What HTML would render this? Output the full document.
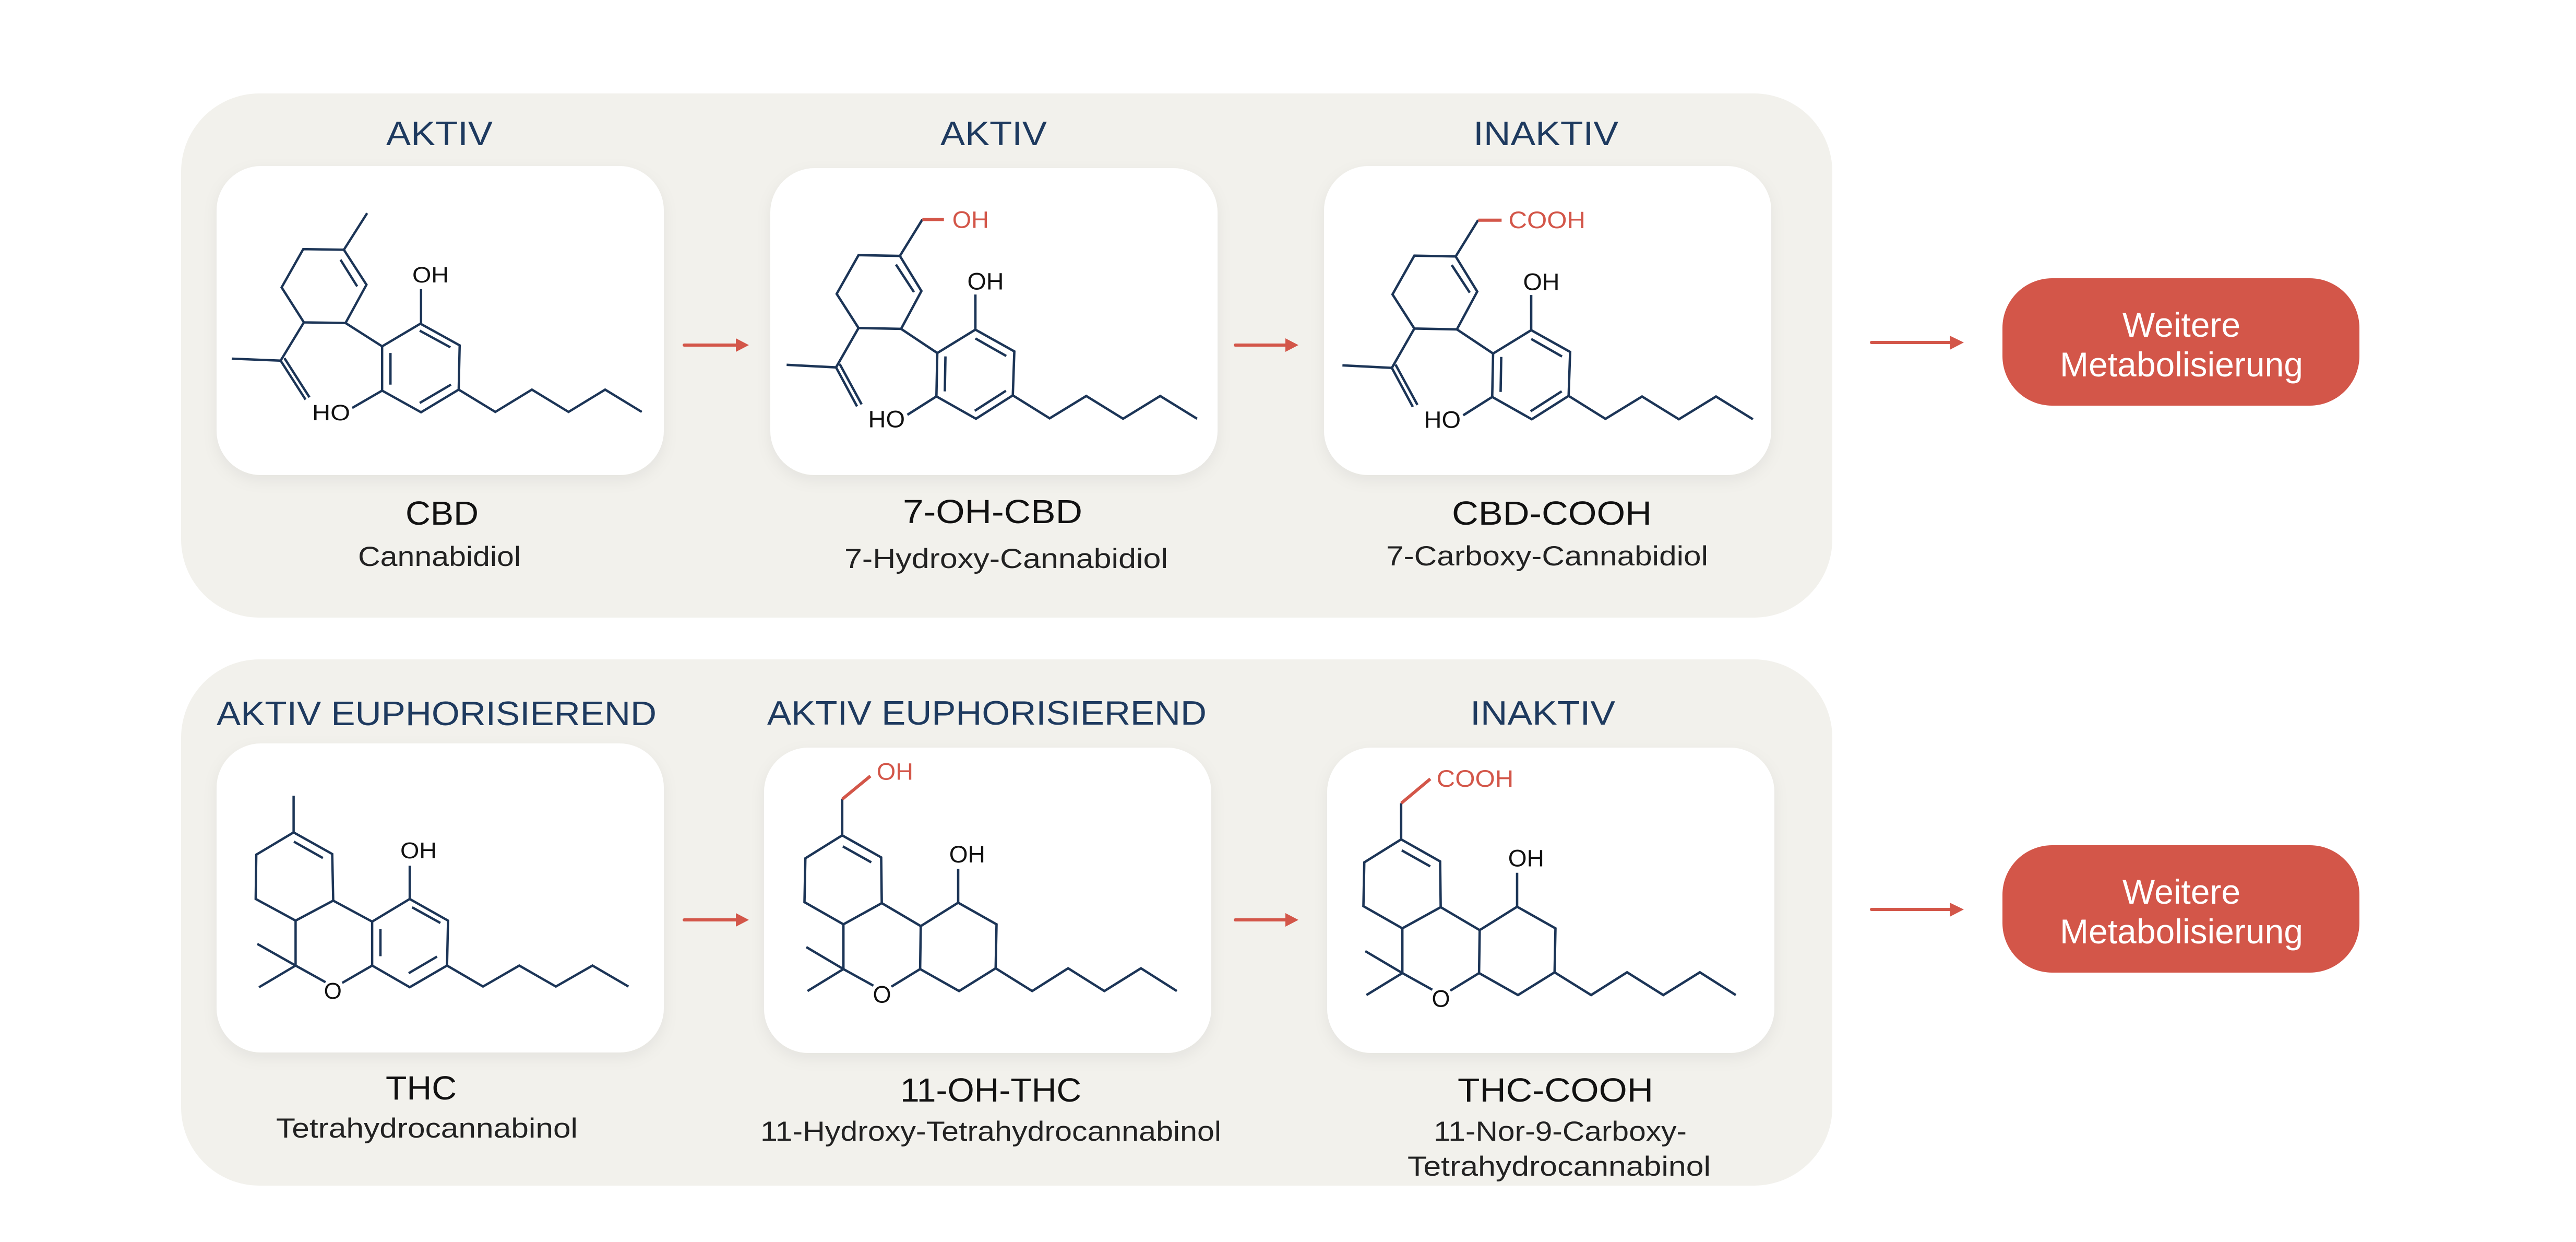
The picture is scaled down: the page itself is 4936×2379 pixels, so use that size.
<!DOCTYPE html>
<html><head><meta charset="utf-8"><style>
html,body{margin:0;padding:0;background:#fff;}
svg{display:block;}
text{font-family:"Liberation Sans",sans-serif;}
</style></head><body>
<svg width="4936" height="2379" viewBox="0 0 4936 2379" xmlns="http://www.w3.org/2000/svg">
<defs>
<filter id="sh" x="-10%" y="-10%" width="120%" height="125%"><feDropShadow dx="0" dy="10" stdDeviation="14" flood-color="#000" flood-opacity="0.06"/></filter>
</defs>
<rect x="0" y="0" width="4936" height="2379" fill="#fff"/>
<rect x="347" y="179" width="3164" height="1004" rx="150" fill="#f2f1ec"/>
<rect x="347" y="1263" width="3164" height="1008" rx="150" fill="#f2f1ec"/>
<g fill="#fff" filter="url(#sh)">
<rect x="415" y="318" width="857" height="592" rx="85"/>
<rect x="1476" y="322" width="857" height="588" rx="85"/>
<rect x="2537" y="318" width="857" height="592" rx="85"/>
<rect x="415" y="1424" width="857" height="592" rx="85"/>
<rect x="1464" y="1432" width="857" height="585" rx="85"/>
<rect x="2543" y="1432" width="857" height="585" rx="85"/>
</g>
<g fill="#1e3a5f" font-size="65">
<text x="740" y="278" textLength="204" lengthAdjust="spacingAndGlyphs">AKTIV</text>
<text x="1802" y="278" textLength="204" lengthAdjust="spacingAndGlyphs">AKTIV</text>
<text x="2823" y="278" textLength="278" lengthAdjust="spacingAndGlyphs">INAKTIV</text>
<text x="415" y="1389" textLength="843" lengthAdjust="spacingAndGlyphs">AKTIV EUPHORISIEREND</text>
<text x="1470" y="1388" textLength="842" lengthAdjust="spacingAndGlyphs">AKTIV EUPHORISIEREND</text>
<text x="2817" y="1388" textLength="278" lengthAdjust="spacingAndGlyphs">INAKTIV</text>
</g>
<g fill="#111" font-size="64">
<text x="777" y="1005" textLength="140" lengthAdjust="spacingAndGlyphs">CBD</text>
<text x="1730" y="1002" textLength="344" lengthAdjust="spacingAndGlyphs">7-OH-CBD</text>
<text x="2782" y="1005" textLength="383" lengthAdjust="spacingAndGlyphs">CBD-COOH</text>
<text x="739" y="2106" textLength="136" lengthAdjust="spacingAndGlyphs">THC</text>
<text x="1725" y="2110" textLength="347" lengthAdjust="spacingAndGlyphs">11-OH-THC</text>
<text x="2793" y="2110" textLength="375" lengthAdjust="spacingAndGlyphs">THC-COOH</text>
</g>
<g fill="#222" font-size="53">
<text x="686" y="1084" textLength="312" lengthAdjust="spacingAndGlyphs">Cannabidiol</text>
<text x="1618" y="1088" textLength="620" lengthAdjust="spacingAndGlyphs">7-Hydroxy-Cannabidiol</text>
<text x="2656" y="1083" textLength="617" lengthAdjust="spacingAndGlyphs">7-Carboxy-Cannabidiol</text>
<text x="529" y="2179" textLength="578" lengthAdjust="spacingAndGlyphs">Tetrahydrocannabinol</text>
<text x="1457" y="2185" textLength="883" lengthAdjust="spacingAndGlyphs">11-Hydroxy-Tetrahydrocannabinol</text>
<text x="2747" y="2185" textLength="485" lengthAdjust="spacingAndGlyphs">11-Nor-9-Carboxy-</text>
<text x="2697" y="2252" textLength="581" lengthAdjust="spacingAndGlyphs">Tetrahydrocannabinol</text>
</g>
<g stroke="#d35649" stroke-width="6" fill="#d35649" stroke-linecap="round">
<line x1="1311" y1="661" x2="1412" y2="661"/><polygon stroke="none" points="1410,648 1435,661 1410,674"/>
<line x1="2367" y1="661" x2="2465" y2="661"/><polygon stroke="none" points="2463,648 2488,661 2463,674"/>
<line x1="3586" y1="656" x2="3740" y2="656"/><polygon stroke="none" points="3736,643 3763,656 3736,670"/>
<line x1="1311" y1="1762" x2="1412" y2="1762"/><polygon stroke="none" points="1410,1749 1435,1762 1410,1775"/>
<line x1="2367" y1="1762" x2="2465" y2="1762"/><polygon stroke="none" points="2463,1749 2488,1762 2463,1775"/>
<line x1="3586" y1="1742" x2="3740" y2="1742"/><polygon stroke="none" points="3736,1729 3763,1742 3736,1756"/>
</g>
<rect x="3837" y="533" width="684" height="244" rx="95" fill="#d35649"/>
<rect x="3837" y="1619" width="684" height="244" rx="95" fill="#d35649"/>
<g fill="#fff" font-size="66" text-anchor="middle">
<text x="4180" y="645">Weitere</text>
<text x="4180" y="721">Metabolisierung</text>
<text x="4180" y="1731">Weitere</text>
<text x="4180" y="1807">Metabolisierung</text>
</g>

<!-- CBD -->
<g stroke="#1c3557" stroke-width="4.5" fill="none">
<polygon points="658.9,478.4 581.1,477.2 539.6,550.5 582.3,617.5 662.1,618.7 702.2,545.4"/>
<line x1="658.9" y1="478.4" x2="703.5" y2="408.3"/>
<line x1="652.5" y1="497.6" x2="684.4" y2="548.6"/>
<polyline points="582.3,617.5 537.7,690.8 444,687"/>
<line x1="537.7" y1="690.8" x2="585.5" y2="765.4"/>
<line x1="545" y1="686" x2="593" y2="761"/>
<line x1="662.1" y1="618.7" x2="732.2" y2="663.4"/>
<polygon points="732.2,663.4 805.6,620 880.8,661.5 878.9,746.3 806.8,789.7 732.2,748.2"/>
<line x1="804.3" y1="633.4" x2="863" y2="665.3"/>
<line x1="748.2" y1="676.1" x2="748.2" y2="736.7"/>
<line x1="804.3" y1="771.8" x2="864.2" y2="736.7"/>
<line x1="806.8" y1="620" x2="806.8" y2="553.7"/>
<line x1="732.2" y1="748.2" x2="674.8" y2="781.4"/>
<polyline points="878.9,746.3 949.1,789 1019.2,746.3 1089.4,789 1159.5,746.3 1229.7,789"/>
</g>
<g fill="#111" font-size="43">
<text x="790" y="541" textLength="70" lengthAdjust="spacingAndGlyphs">OH</text>
<text x="598" y="805" textLength="73" lengthAdjust="spacingAndGlyphs">HO</text>
</g>

<!-- 7-OH-CBD skeleton -->
<g id="cbdx">
<g stroke="#1c3557" stroke-width="4.6" fill="none">
<line x1="1724.3" y1="490.2" x2="1767.4" y2="420.5"/>
<polygon points="1724.3,490.2 1645.1,488.7 1603.2,562.9 1645.1,628.3 1726.6,629.9 1765.6,557.5"/>
<line x1="1716.8" y1="506.7" x2="1751.3" y2="559.5"/>
<polyline points="1645.1,628.3 1602,703.7 1507.3,698.8"/>
<line x1="1602" y1="703.7" x2="1642.2" y2="778.4"/>
<line x1="1609" y1="697.3" x2="1651" y2="774.5"/>
<line x1="1726.6" y1="629.9" x2="1796" y2="676.2"/>
<polygon points="1796,676.2 1869,631.4 1943.6,673.1 1940.7,757.3 1870.1,802.1 1794.3,759.3"/>
<line x1="1869" y1="648.3" x2="1928.1" y2="681.9"/>
<line x1="1811.6" y1="682.7" x2="1810.4" y2="749.7"/>
<line x1="1867.8" y1="786.8" x2="1927.5" y2="748.5"/>
<line x1="1869" y1="631.4" x2="1869" y2="564.1"/>
<line x1="1794.3" y1="759.3" x2="1738.7" y2="794.5"/>
<polyline points="1940.7,757.3 2011.3,801.3 2081.4,758.5 2152,802.1 2223.1,758.5 2293.8,802.1"/>
</g>
<g fill="#111" font-size="45">
<text x="1853.5" y="554.5" textLength="70" lengthAdjust="spacingAndGlyphs">OH</text>
<text x="1663.5" y="818.5" textLength="70.5" lengthAdjust="spacingAndGlyphs">HO</text>
</g>
</g>
<line x1="1767.4" y1="420.5" x2="1808.7" y2="420.5" stroke="#d35649" stroke-width="6"/>
<text x="1824.8" y="436.7" font-size="45" fill="#d35649" textLength="70" lengthAdjust="spacingAndGlyphs">OH</text>

<use href="#cbdx" transform="translate(1065,1)"/>
<line x1="2832.5" y1="421.7" x2="2877.3" y2="421.7" stroke="#d35649" stroke-width="6"/>
<text x="2890.5" y="437" font-size="45" fill="#d35649" textLength="147.5" lengthAdjust="spacingAndGlyphs">COOH</text>

<!-- THC -->
<g stroke="#1c3557" stroke-width="4.5" fill="none">
<line x1="562.6" y1="1524.2" x2="562.6" y2="1594.4"/>
<polygon points="562.6,1594.4 636.6,1635.8 638.5,1725.1 566.4,1763.4 489.9,1721.9 491.1,1637.1"/>
<line x1="563.2" y1="1612.2" x2="618.7" y2="1643.5"/>
<line x1="638.5" y1="1725.1" x2="713.1" y2="1765.3"/>
<line x1="566.4" y1="1763.4" x2="566.4" y2="1849.5"/>
<line x1="493" y1="1808" x2="566.4" y2="1849.5"/>
<line x1="496.3" y1="1891" x2="566.4" y2="1849.5"/>
<line x1="566.4" y1="1849.5" x2="623.8" y2="1881.4"/>
<line x1="655.7" y1="1882.7" x2="713.1" y2="1849.5"/>
<polygon points="713.1,1765.3 785.1,1722 858.5,1763.4 856.6,1849.5 785.1,1891 713.1,1849.5"/>
<line x1="789.6" y1="1737.9" x2="843.8" y2="1767.9"/>
<line x1="729" y1="1779.3" x2="729" y2="1831.6"/>
<line x1="783.2" y1="1864.1" x2="837.4" y2="1832.3"/>
<line x1="785.1" y1="1722" x2="785.1" y2="1658.2"/>
<polyline points="856.6,1849.5 925.5,1889.7 995,1849.5 1065.1,1889.7 1135.3,1849.5 1204.2,1889.7"/>
</g>
<g fill="#111" font-size="44">
<text x="767" y="1644" textLength="70" lengthAdjust="spacingAndGlyphs">OH</text>
<text x="637.8" y="1913" text-anchor="middle">O</text>
</g>

<!-- 11-OH-THC skeleton -->
<g id="thcx">
<g stroke="#1c3557" stroke-width="4.6" fill="none">
<line x1="1613.8" y1="1530.9" x2="1613.8" y2="1600.1"/>
<polygon points="1613.8,1600.1 1688.5,1642.3 1689.6,1729.9 1616.1,1770.5 1541.5,1728 1543.2,1644.1"/>
<line x1="1615" y1="1621.2" x2="1669.5" y2="1651.8"/>
<line x1="1689.6" y1="1729.9" x2="1764.3" y2="1773.9"/>
<line x1="1616.1" y1="1770.5" x2="1616.1" y2="1856.2"/>
<line x1="1545" y1="1814.1" x2="1616.1" y2="1856.2"/>
<line x1="1547.3" y1="1898.3" x2="1616.1" y2="1856.2"/>
<line x1="1616.1" y1="1856.2" x2="1673.5" y2="1888"/>
<line x1="1708" y1="1889.9" x2="1763.1" y2="1856.2"/>
<polygon points="1764.3,1773.9 1836,1729.1 1909.5,1770.5 1907.8,1854.7 1837.7,1898.3 1763.1,1856.2"/>
<line x1="1836" y1="1729.1" x2="1836" y2="1664.1"/>
<polyline points="1907.8,1854.7 1977.8,1898.3 2046.7,1854.7 2116.1,1898.3 2186.2,1854.7 2255,1898.3"/>
</g>
<g fill="#111" font-size="45">
<text x="1818.8" y="1651.8" textLength="69" lengthAdjust="spacingAndGlyphs">OH</text>
<text x="1690" y="1920.7" text-anchor="middle">O</text>
</g>
</g>
<line x1="1613.8" y1="1530.9" x2="1667.8" y2="1486.5" stroke="#d35649" stroke-width="6"/>
<text x="1679.9" y="1493.7" font-size="45" fill="#d35649" textLength="70" lengthAdjust="spacingAndGlyphs">OH</text>

<use href="#thcx" transform="translate(1071,7.7)"/>
<line x1="2685" y1="1538.6" x2="2740.7" y2="1491.9" stroke="#d35649" stroke-width="6"/>
<text x="2752.7" y="1507.1" font-size="45" fill="#d35649" textLength="147.6" lengthAdjust="spacingAndGlyphs">COOH</text>
</svg>
</body></html>
